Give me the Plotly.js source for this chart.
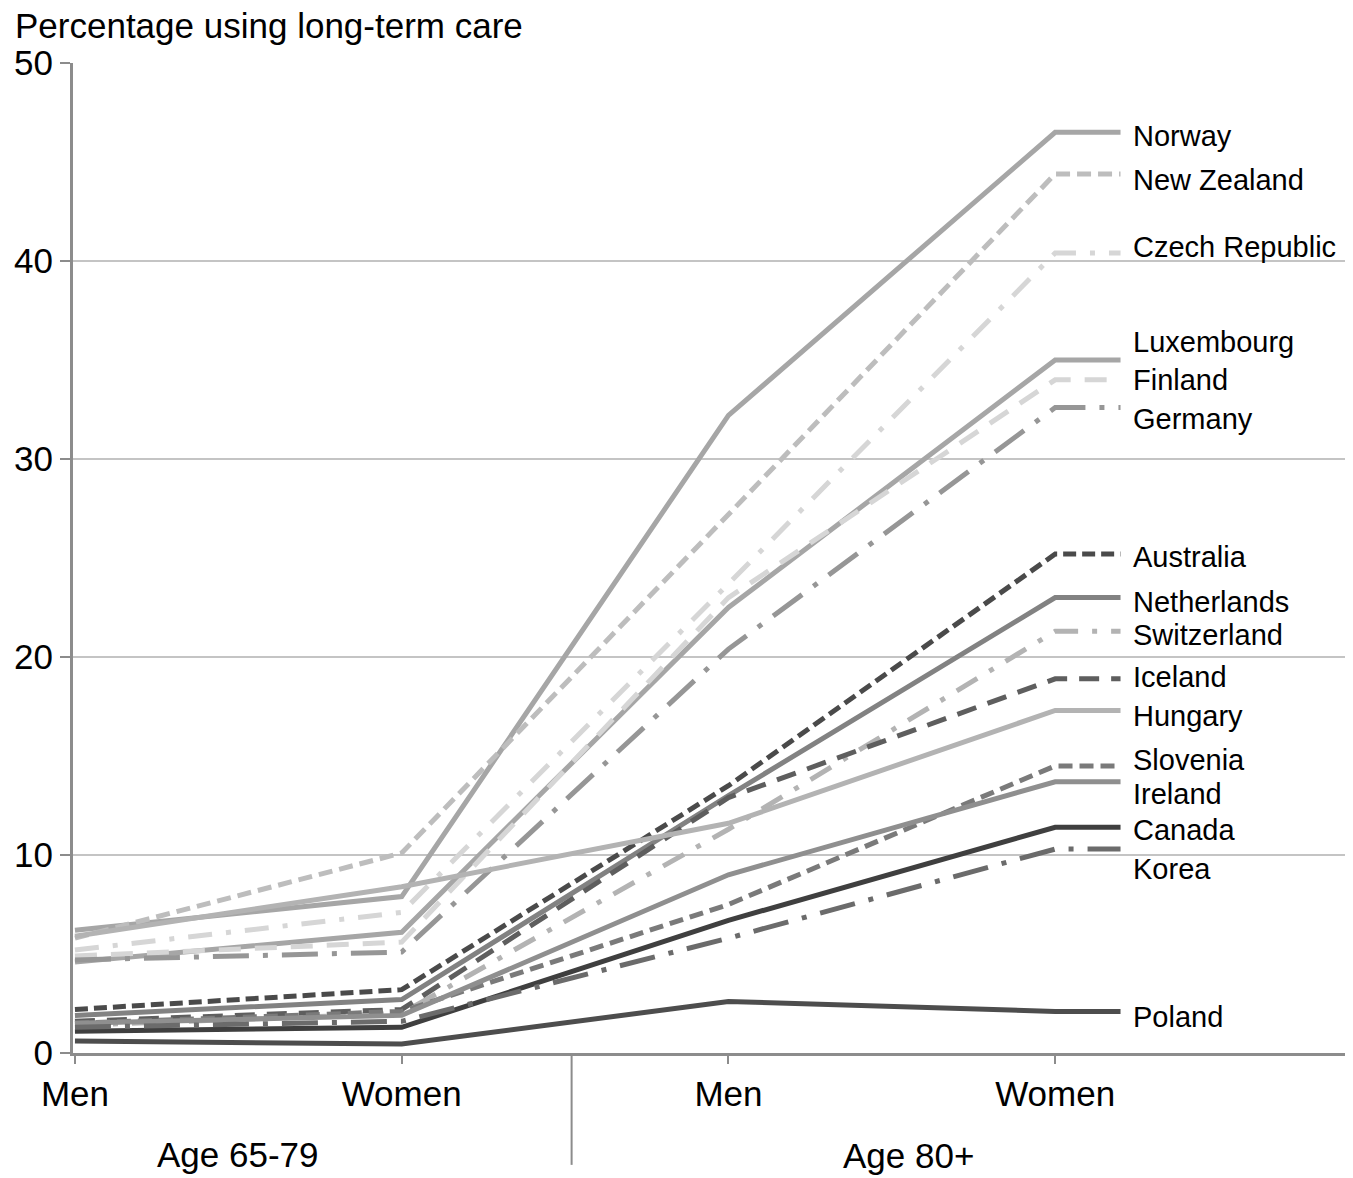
<!DOCTYPE html>
<html>
<head>
<meta charset="utf-8">
<script src="https://cdn.plot.ly/plotly-3.0.1.min.js"></script>
<style>html,body{margin:0;padding:0;background:#fff;}#chart{width:1353px;height:1178px;}</style>
</head>
<body>
<div id="chart"></div>
<script>
// Categories (x axis)
const categories = ["Men", "Women", "Men", "Women"];
const groups = ["Age 65-79", "Age 80+"];

// Countries and values: [Men 65-79, Women 65-79, Men 80+, Women 80+]
const countries = ["Norway","New Zealand","Czech Republic","Luxembourg","Finland","Germany",
  "Australia","Netherlands","Switzerland","Iceland","Hungary","Slovenia","Ireland","Canada","Korea","Poland"];
const norway      = [6.2, 7.9, 32.2, 46.5];
const newZealand  = [5.8, 10.1, 27.2, 44.4];
const czech       = [5.2, 7.1, 23.7, 40.4];
const luxembourg  = [4.6, 6.1, 22.5, 35.0];
const finland     = [4.9, 5.6, 23.0, 34.0];
const germany     = [4.7, 5.1, 20.4, 32.6];
const australia   = [2.2, 3.2, 13.5, 25.2];
const netherlands = [1.9, 2.7, 13.0, 23.0];
const switzerland = [1.4, 2.0, 11.3, 21.3];
const iceland     = [1.6, 2.2, 12.9, 18.9];
const hungary     = [5.9, 8.4, 11.6, 17.3];
const slovenia    = [1.5, 2.1, 7.5, 14.5];
const ireland     = [1.5, 1.9, 9.0, 13.7];
const canada      = [1.1, 1.3, 6.7, 11.4];
const korea       = [1.3, 1.6, 5.8, 10.3];
const poland      = [0.6, 0.45, 2.6, 2.1];
const seriesValues = [norway,newZealand,czech,luxembourg,finland,germany,australia,netherlands,
  switzerland,iceland,hungary,slovenia,ireland,canada,korea,poland];

// Styles (kept apart from data)
const lineColors = ["#a6a6a6","#bdbdbd","#d6d6d6","#a6a6a6","#d6d6d6","#969696",
  "#4a4a4a","#828282","#b3b3b3","#5e5e5e","#b3b3b3","#7a7a7a","#8f8f8f","#3f3f3f","#6b6b6b","#4d4d4d"];
const lineDashes = ["solid","14px,7px","24px,14px,5px,14px","solid","22px,14px","36px,14px,5px,14px",
  "13px,6px","solid","24px,14px,5px,14px","20px,12px","solid","14px,7px","solid","solid","36px,14px,5px,14px","solid"];
// Label vertical placement (data units), to avoid overlapping labels
const labelPos = [46.3,44.1,40.7,35.9,34.0,32.0,25.05,22.8,21.1,19.0,17.0,14.8,13.1,11.25,9.3,1.8];

const leaderEnd = 3.2;
const xs = categories.map((c,i)=>i);

const traces = seriesValues.map((vals,i)=>({
  type:"scatter", mode:"lines", name:countries[i],
  x: xs.concat([leaderEnd]),
  y: vals.concat([vals[vals.length-1]]),
  line:{color:lineColors[i], width:5, dash:lineDashes[i]},
  hoverinfo:"name+y"
}));

const font = "Liberation Sans, Arial, sans-serif";
const annotations = countries.map((c,i)=>({
  x: leaderEnd, y: labelPos[i], xref:"x", yref:"y", text:c, showarrow:false,
  xanchor:"left", yanchor:"middle", xshift:10, font:{family:font,size:29,color:"#000"}
}));
annotations.push({x:0.5, y:-0.103, xref:"x", yref:"paper", text:groups[0], showarrow:false,
  xanchor:"center", yanchor:"middle", font:{family:font,size:35,color:"#000"}});
annotations.push({x:2.55, y:-0.104, xref:"x", yref:"paper", text:groups[1], showarrow:false,
  xanchor:"center", yanchor:"middle", font:{family:font,size:35,color:"#000"}});
annotations.push({x:0, y:1.038, xref:"paper", yref:"paper", text:"Percentage using long-term care",
  showarrow:false, xanchor:"left", yanchor:"middle", xshift:-60, font:{family:font,size:35,color:"#000"}});

const layout = {
  width:1353, height:1178,
  margin:{l:73, r:8, t:63, b:125},
  paper_bgcolor:"#fff", plot_bgcolor:"#fff",
  showlegend:false,
  font:{family:font, color:"#000"},
  xaxis:{
    range:[-0.006, 3.887], tickmode:"array", tickvals:xs, ticktext:categories,
    showgrid:false, zeroline:false, showline:true, linecolor:"#8c8c8c", linewidth:3,
    ticks:"outside", ticklen:8, tickcolor:"#8c8c8c", tickwidth:2,
    tickfont:{family:font,size:35,color:"#000"}
  },
  yaxis:{
    range:[0,50], tickvals:[0,10,20,30,40,50],
    showgrid:true, gridcolor:"#c4c4c4", gridwidth:2, zeroline:false,
    showline:true, linecolor:"#8c8c8c", linewidth:3,
    ticks:"outside", ticklen:10, tickcolor:"#8c8c8c", tickwidth:2,
    tickfont:{family:font,size:35,color:"#000"}
  },
  shapes:[{type:"line", xref:"x", yref:"paper", x0:1.52, x1:1.52, y0:0, y1:-0.113,
    line:{color:"#8c8c8c", width:2}}],
  annotations:annotations
};

Plotly.newPlot("chart", traces, layout, {displayModeBar:false, staticPlot:true});
</script>
</body>
</html>
